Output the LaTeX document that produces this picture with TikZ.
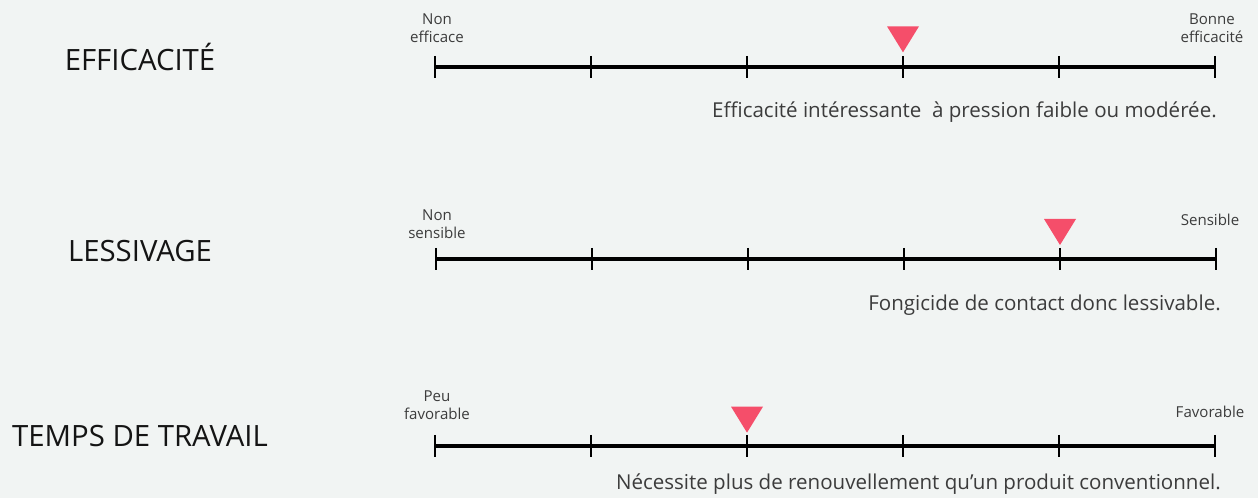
\documentclass[tikz,border=0pt]{standalone}
\usepackage{fontspec}
\setmainfont{Open Sans}
\usetikzlibrary{positioning}
\definecolor{fond}{HTML}{F1F4F3}
\definecolor{rose}{HTML}{F54E6A}
\definecolor{gristexte}{HTML}{3C3C3C}

\begin{document}
\begin{tikzpicture}[x=0.75pt,y=-0.75pt]

    \tikzstyle{titre} = [font=\fontsize{22}{26}\selectfont, text=black!92]
    \tikzstyle{borne} = [font=\fontsize{11.3}{13.8}\selectfont, text=gristexte, align=center, inner sep=0pt]
    \tikzstyle{note} = [font=\fontsize{15.4}{18}\selectfont, text=gristexte, anchor=base east, inner sep=0pt]
    \tikzstyle{axe} = [line width=2.4pt]
    \tikzstyle{graduation} = [line width=2.2pt]
    \tikzstyle{curseur} = [fill=rose]

    \fill[fond] (0,0) rectangle (1258,498);
    \useasboundingbox (0,0) rectangle (1258,498);

    % efficacite
    \node (efficacite) [titre] at (140,57) {EFFICACITÉ};
    \foreach \i in {0,...,5}
        \coordinate (eff\i) at (435+156*\i,67);
    \draw [axe] (eff0) -- (eff5);
    \foreach \i in {0,...,5}
        \draw [graduation] ([yshift=8.25pt]eff\i) -- ([yshift=-8.25pt]eff\i);
    \fill [curseur] ([yshift=11pt]eff3) -- ++(-16,-26) -- ++(32,0) -- cycle;
    \node (eff-min) [borne] at (437,28) {Non\\efficace};
    \node (eff-max) [borne] at (1212,28) {Bonne\\efficacité};
    \node (eff-note) [note] at (1217,118) {Efficacité intéressante\ \ à pression faible ou modérée.};

    % lessivage
    \node (lessivage) [titre] at (140,251) {LESSIVAGE};
    \foreach \i in {0,...,5}
        \coordinate (les\i) at (436+156*\i,259);
    \draw [axe] (les0) -- (les5);
    \foreach \i in {0,...,5}
        \draw [graduation] ([yshift=8.25pt]les\i) -- ([yshift=-8.25pt]les\i);
    \fill [curseur] ([yshift=10.5pt]les4) -- ++(-16,-26) -- ++(32,0) -- cycle;
    \node (les-min) [borne] at (437,224) {Non\\sensible};
    \node (les-max) [borne] at (1210,220) {Sensible};
    \node (les-note) [note] at (1221,311) {Fongicide de contact donc lessivable.};

    % temps de travail
    \node (temps) [titre] at (140,436) {TEMPS DE TRAVAIL};
    \foreach \i in {0,...,5}
        \coordinate (tps\i) at (435+156*\i,446);
    \draw [axe] (tps0) -- (tps5);
    \foreach \i in {0,...,5}
        \draw [graduation] ([yshift=8.25pt]tps\i) -- ([yshift=-8.25pt]tps\i);
    \fill [curseur] ([yshift=10pt]tps2) -- ++(-16,-26) -- ++(32,0) -- cycle;
    \node (tps-min) [borne] at (437,405) {Peu\\favorable};
    \node (tps-max) [borne] at (1210,412) {Favorable};
    \node (tps-note) [note] at (1221,490) {Nécessite plus de renouvellement qu’un produit conventionnel.};

\end{tikzpicture}
\end{document}
